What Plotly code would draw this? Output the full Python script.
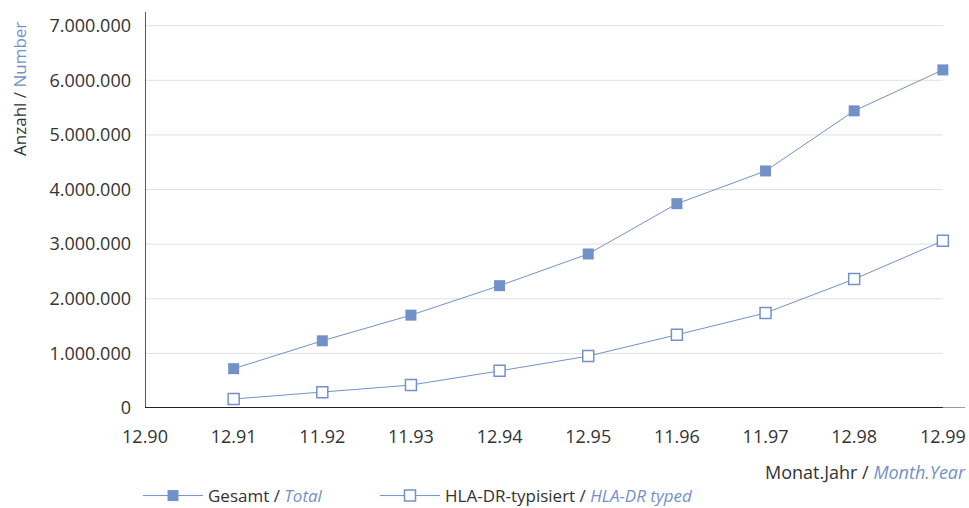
import plotly.graph_objects as go

categories = ["12.90", "12.91", "11.92", "11.93", "12.94", "12.95", "11.96", "11.97", "12.98", "12.99"]
total = [None, 720000, 1230000, 1700000, 2240000, 2820000, 3740000, 4340000, 5440000, 6190000]
hla_typed = [None, 165000, 290000, 420000, 680000, 950000, 1340000, 1740000, 2360000, 3060000]
y_ticks = [0, 1000000, 2000000, 3000000, 4000000, 5000000, 6000000, 7000000]
y_tick_labels = ["0", "1.000.000", "2.000.000", "3.000.000", "4.000.000", "5.000.000", "6.000.000", "7.000.000"]

BLUE = "#7391c9"
TXT = "#333333"
FONT = "Open Sans"

xi = list(range(len(categories)))

fig = go.Figure()
fig.add_trace(go.Scatter(
    x=xi, y=total, mode="lines+markers",
    name="Gesamt / <i><span style='color:#7391c9'>Total</span></i>",
    line=dict(color=BLUE, width=1),
    marker=dict(symbol="square", size=11, color=BLUE, line=dict(width=0)),
    legend="legend",
))
fig.add_trace(go.Scatter(
    x=xi, y=hla_typed, mode="lines+markers",
    name="HLA-DR-typisiert / <i><span style='color:#7391c9'>HLA-DR typed</span></i>",
    line=dict(color=BLUE, width=1),
    marker=dict(symbol="square", size=11, color="white", line=dict(width=1.5, color=BLUE)),
    legend="legend2",
))

shapes = []
for t in y_ticks[1:]:
    shapes.append(dict(type="line", xref="x", yref="y", x0=0, x1=len(categories) - 1, y0=t, y1=t,
                       line=dict(color="#e0e0e0", width=1), layer="below"))
shapes.append(dict(type="line", xref="x", yref="y", x0=len(categories) - 1, x1=len(categories) - 0.75, y0=0, y1=0,
                   line=dict(color="#999999", width=2), layer="above"))
shapes.append(dict(type="line", xref="x", yref="y", x0=0, x1=len(categories) - 1, y0=0, y1=0,
                   line=dict(color="#222222", width=2), layer="above"))
shapes.append(dict(type="line", xref="x", yref="paper", x0=0, x1=0, y0=0, y1=1,
                   line=dict(color="#222222", width=1.5), layer="above"))

legend_common = dict(orientation="h", xanchor="left", xref="container", y=0.0236, yanchor="middle",
                     yref="container", font=dict(size=17, color=TXT), itemwidth=60,
                     bgcolor="rgba(0,0,0,0)")

fig.update_layout(
    width=969, height=508,
    margin=dict(l=145, r=4, t=12, b=100),
    plot_bgcolor="white", paper_bgcolor="white",
    font=dict(family=FONT, color=TXT, size=16),
    xaxis=dict(range=[0, len(categories) - 0.75], tickmode="array", tickvals=xi, ticktext=categories,
               showgrid=False, zeroline=False, showline=False, ticks="", ticklen=0,
               ticklabelstandoff=16,
               tickfont=dict(size=18, color=TXT), automargin=False),
    yaxis=dict(range=[0, 7250000], tickmode="array", tickvals=y_ticks, ticktext=y_tick_labels,
               showgrid=False, zeroline=False, showline=False, ticks="",
               ticklabelstandoff=13,
               tickfont=dict(size=18, color=TXT), automargin=False),
    shapes=shapes,
    showlegend=True,
    legend=dict(x=138 / 969, **legend_common),
    legend2=dict(x=375 / 969, **legend_common),
    annotations=[
        dict(text="Monat.Jahr / <i><span style='color:#7391c9'>Month.Year</span></i>",
             xref="paper", yref="paper", x=1, y=-0.162, xanchor="right", yanchor="middle", xshift=3,
             showarrow=False, font=dict(size=18, color=TXT)),
        dict(text="Anzahl / <span style='color:#7391c9'>Number</span>",
             xref="paper", yref="paper", x=-0.1524, y=0.98, xanchor="center", yanchor="top",
             textangle=-90, showarrow=False, font=dict(size=17, color=TXT)),
    ],
)

fig.write_html("out.html", config={"displayModeBar": False},
               post_script="document.body.style.margin='0';document.body.style.overflow='hidden';")
